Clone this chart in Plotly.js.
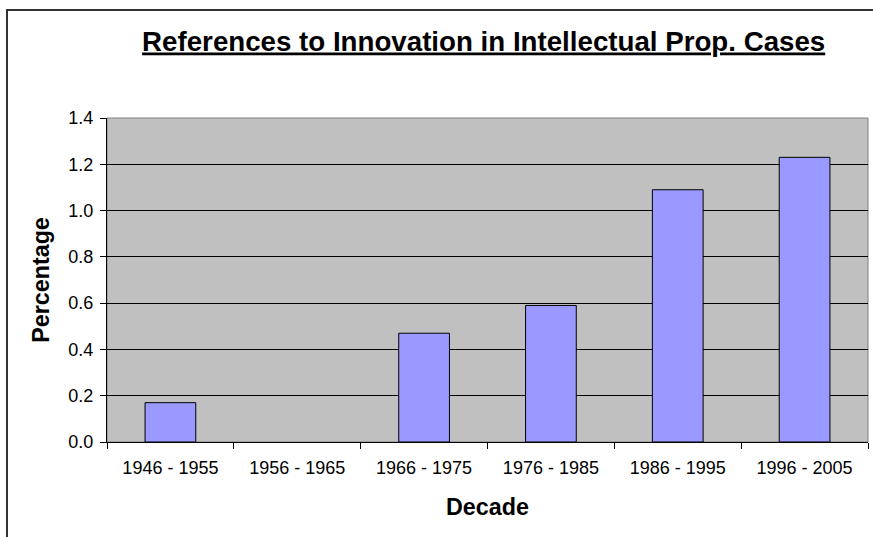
<!DOCTYPE html>
<html>
<head>
<meta charset="utf-8">
<script src="https://cdn.plot.ly/plotly-3.0.1.min.js"></script>
<style>
  html, body { margin:0; padding:0; background:#fff; }
  #wrap { position:relative; width:873px; height:537px; overflow:hidden; }
  #chart { position:absolute; left:0; top:0; width:873px; height:537px; }
  #frame { position:absolute; left:6px; top:9px; width:900px; height:600px;
           border-left:2px solid #333; border-top:2px solid #333; pointer-events:none; }
</style>
</head>
<body>
<div id="wrap">
  <div id="chart"></div>
  <div id="frame"></div>
</div>
<script>
const decades = ["1946 - 1955", "1956 - 1965", "1966 - 1975", "1976 - 1985", "1986 - 1995", "1996 - 2005"];
const percentages = [0.17, 0, 0.47, 0.59, 1.09, 1.23];
const yTicks = [0, 0.2, 0.4, 0.6, 0.8, 1.0, 1.2, 1.4];

const FONT = '"Liberation Sans", Arial, sans-serif';

const trace = {
  type: 'bar',
  x: decades,
  y: percentages,
  marker: {
    color: '#9999FF',
    line: { color: '#000000', width: percentages.map(v => (v > 0 ? 1 : 0)) }
  },
  hoverinfo: 'x+y'
};

const layout = {
  width: 873, height: 537,
  margin: { l: 107, r: 5, t: 118, b: 95 },
  paper_bgcolor: 'rgba(0,0,0,0)',
  plot_bgcolor: '#C0C0C0',
  bargap: 0.6,
  showlegend: false,
  font: { family: FONT, color: '#000', size: 18 },
  title: {
    text: '<u>References to Innovation in Intellectual Prop. Cases</u>',
    font: { family: FONT, size: 27.7, color: '#000', weight: 'bold' },
    x: 0.495, xanchor: 'center', xref: 'paper',
    y: 0.924, yanchor: 'middle'
  },
  xaxis: {
    type: 'category',
    tickson: 'boundaries',
    ticks: 'outside', ticklen: 6, tickcolor: '#000', tickwidth: 1,
    showline: true, linecolor: '#000', linewidth: 1,
    showgrid: false,
    ticklabelstandoff: 9,
    tickfont: { family: FONT, size: 18, color: '#000' },
    title: { text: '<b>Decade</b>', font: { family: FONT, size: 23.3, color: '#000' }, standoff: 22 }
  },
  yaxis: {
    range: [0, 1.4],
    tickvals: yTicks,
    tickformat: '.1f',
    ticks: 'outside', ticklen: 6, tickcolor: '#000', tickwidth: 1,
    showline: true, linecolor: '#000', linewidth: 1,
    showgrid: true, gridcolor: '#000', gridwidth: 1,
    zeroline: false,
    ticklabelstandoff: 3,
    tickfont: { family: FONT, size: 18, color: '#000' },
    title: { text: '<b>Percentage</b>', font: { family: FONT, size: 23.3, color: '#000' }, standoff: 12 }
  },
  shapes: [{
    type: 'rect', xref: 'paper', yref: 'paper', x0: 0, x1: 1, y0: 0, y1: 1,
    line: { color: '#808080', width: 1 }, fillcolor: 'rgba(0,0,0,0)', layer: 'below'
  }]
};

Plotly.newPlot('chart', [trace], layout, { displayModeBar: false, staticPlot: true });
</script>
</body>
</html>
